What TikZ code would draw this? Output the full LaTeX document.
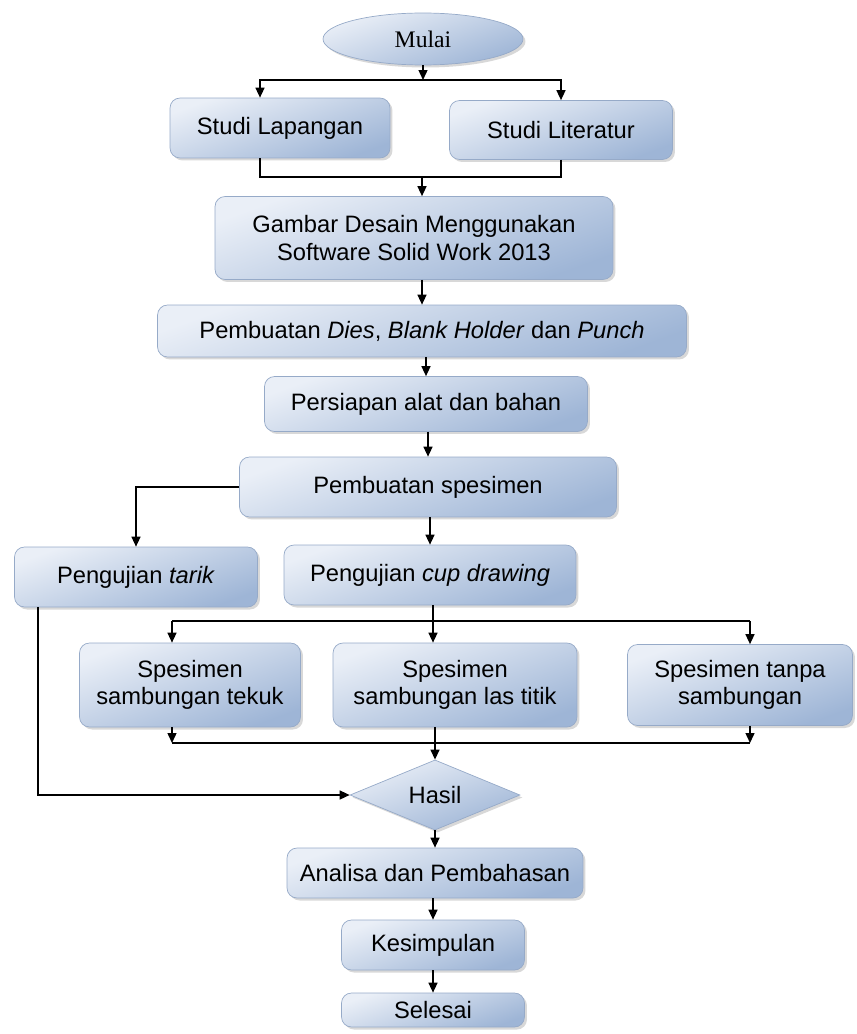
\documentclass[tikz,border=0pt]{standalone}
\usepackage{fontspec}
\setmainfont{Liberation Sans}
\newfontfamily\mulaifont{Liberation Serif}
\usetikzlibrary{shapes.geometric,arrows.meta,shadows}
\definecolor{boxtop}{RGB}{234,239,247}
\definecolor{boxbot}{RGB}{158,181,214}
\definecolor{boxedge}{RGB}{150,170,200}

\begin{document}
\begin{tikzpicture}[x=0.02cm,y=-0.02cm,
    >={Triangle[length=2mm,width=1.8mm]},
    line width=0.8pt,
    font=\fontsize{13.5}{15.5}\selectfont,
    box/.style={rectangle,rounded corners=0.2cm,draw=boxedge,line width=0.4pt,
        top color=boxtop,bottom color=boxbot,shading angle=20,
        drop shadow={shadow xshift=0.05cm,shadow yshift=-0.05cm,fill=black!30},
        align=center,inner sep=2pt},
    term/.style={box,ellipse,rounded corners=0pt,inner sep=0pt},
    decide/.style={box,diamond,rounded corners=0pt,inner sep=0pt}]
            \useasboundingbox (0,0) rectangle (857,1034);
            \node[term,minimum width=4cm,minimum height=1.04cm] (mulai) at (423,39) {\mulaifont Mulai};
            \node[box,minimum width=4.4cm,minimum height=1.2cm] (lap) at (280,128) {Studi Lapangan};
            \node[box,minimum width=4.46cm,minimum height=1.18cm] (lit) at (561,130) {Studi Literatur};
            \node[box,minimum width=7.96cm,minimum height=1.66cm] (gambar) at (414,238) {Gambar Desain Menggunakan\\Software Solid Work 2013};
            \node[box,minimum width=10.58cm,minimum height=1.04cm] (dies) at (422,331) {Pembuatan \textit{Dies}, \textit{Blank Holder} dan \textit{Punch}};
            \node[box,minimum width=6.46cm,minimum height=1.1cm] (persiapan) at (426,404) {Persiapan alat dan bahan};
            \node[box,minimum width=7.54cm,minimum height=1.2cm] (spesimen) at (428,487) {Pembuatan spesimen};
            \node[box,minimum width=4.86cm,minimum height=1.2cm] (tarik) at (136,577) {Pengujian \textit{tarik}};
            \node[box,minimum width=5.84cm,minimum height=1.2cm] (cup) at (430,575) {Pengujian \textit{cup drawing}};
            \node[box,minimum width=4.42cm,minimum height=1.68cm] (tekuk) at (190,685) {Spesimen\\sambungan tekuk};
            \node[box,minimum width=4.88cm,minimum height=1.68cm] (las) at (455,685) {Spesimen\\sambungan las titik};
            \node[box,minimum width=4.5cm,minimum height=1.62cm] (tanpa) at (740,685) {Spesimen tanpa\\sambungan};
            \node[decide,minimum width=3.4cm,minimum height=1.12cm] (hasil) at (435,795) {Hasil};
            \node[box,minimum width=5.92cm,minimum height=1cm] (analisa) at (435,873) {Analisa dan Pembahasan};
            \node[box,minimum width=3.66cm,minimum height=1cm] (kesimpulan) at (433,945) {Kesimpulan};
            \node[box,minimum width=3.66cm,minimum height=0.68cm] (selesai) at (433,1010) {Selesai};
            \coordinate (s1) at (423,80);
            \coordinate (s2) at (422,177);
            \coordinate (b1) at (172,621);
            \coordinate (b2) at (433,621);
            \coordinate (b3) at (750,621);
            \coordinate (d1) at (172,743);
            \coordinate (d3) at (750,743);
            \coordinate (t1) at (38,797);
            \draw[->] (mulai) -- (s1);
            \draw[->] (s1) -| ([xshift=-0.4cm]lap.north);
            \draw[->] (s1) -| (lit.north);
            \draw ([xshift=-0.4cm]lap.south) |- (s2);
            \draw (lit.south) |- (s2);
            \draw[->] (s2) -- (s2 |- gambar.north);
            \draw[->] (gambar.south -| dies.north) -- (dies.north);
            \draw[->] (dies.south -| persiapan.north) -- (persiapan.north);
            \draw[->] (persiapan.south -| spesimen.north) -- (spesimen.north);
            \draw[->] (spesimen.west) -| (tarik.north);
            \draw[->] (spesimen.south -| cup.north) -- (cup.north);
            \draw (cup.south -| b2) -- (b2);
            \draw (b1) -- (b3);
            \draw[->] (b1) -- (b1 |- tekuk.north);
            \draw[->] (b2) -- (b2 |- las.north);
            \draw[->] (b3) -- (b3 |- tanpa.north);
            \draw[->] (tekuk.south -| d1) -- (d1);
            \draw[->] (tanpa.south -| d3) -- (d3);
            \draw (d1) -- (d3);
            \draw[->] (las.south -| hasil.north) -- (hasil.north);
            \draw[->] (tarik.south -| t1) |- (hasil.west);
            \draw[->] (hasil) -- (analisa);
            \draw[->] (analisa.south -| kesimpulan.north) -- (kesimpulan.north);
            \draw[->] (kesimpulan) -- (selesai);
\end{tikzpicture}
\end{document}
